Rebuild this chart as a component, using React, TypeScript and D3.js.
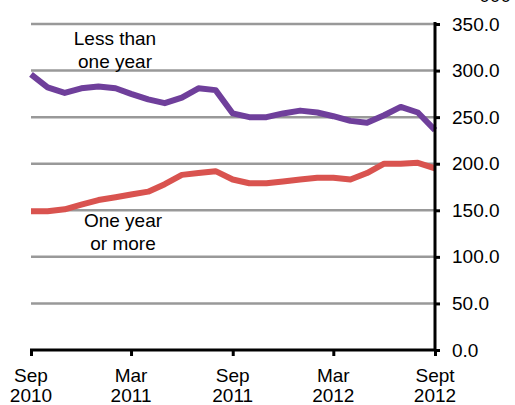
import React, { useEffect, useRef } from 'react';
import * as d3 from 'd3';

const startMonth = new Date(2010, 8, 1);
const lessThanOneYear = [296, 282, 276, 281, 283, 281, 275, 269, 265, 271, 281, 279, 254, 250, 250, 254, 257, 255, 251, 246, 244, 252, 261, 255, 236];
const oneYearOrMore = [149, 149, 151, 156, 161, 164, 167, 170, 178, 188, 190, 192, 183, 179, 179, 181, 183, 185, 185, 183, 190, 200, 200, 201, 195];
const xTickLabels = [['Sep', '2010'], ['Mar', '2011'], ['Sep', '2011'], ['Mar', '2012'], ['Sept', '2012']];
const yTicks = [0, 50, 100, 150, 200, 250, 300, 350];

const FONT = 'Liberation Sans, Arial, sans-serif';

const App: React.FC = () => {
  const ref = useRef<SVGSVGElement | null>(null);

  useEffect(() => {
    if (!ref.current) return;
    const svg = d3.select(ref.current);
    svg.selectAll('*').remove();

    const left = 31, right = 435, top = 24, bottom = 350;
    const months = lessThanOneYear.map((_, i) => d3.timeMonth.offset(startMonth, i));

    const x = d3.scaleTime()
      .domain([months[0], months[months.length - 1]])
      .range([left, right]);
    const y = d3.scaleLinear().domain([0, 350]).range([bottom, top]);

    // gridlines
    svg.append('g')
      .selectAll('line')
      .data(yTicks.filter(d => d > 0))
      .join('line')
      .attr('x1', left)
      .attr('x2', right)
      .attr('y1', d => y(d))
      .attr('y2', d => y(d))
      .attr('stroke', '#999')
      .attr('stroke-width', 2.5);

    const line = d3.line<number>()
      .x((_, i) => x(months[i]))
      .y(d => y(d));

    svg.append('path')
      .datum(oneYearOrMore)
      .attr('fill', 'none')
      .attr('stroke', '#D9534F')
      .attr('stroke-width', 6)
      .attr('stroke-linejoin', 'round')
      .attr('d', line);

    svg.append('path')
      .datum(lessThanOneYear)
      .attr('fill', 'none')
      .attr('stroke', '#6F3F9B')
      .attr('stroke-width', 6)
      .attr('stroke-linejoin', 'round')
      .attr('d', line);

    // right axis
    const yAxis = svg.append('g')
      .attr('transform', `translate(${right},0)`)
      .call(d3.axisRight(y).tickValues(yTicks).tickSize(5).tickPadding(12).tickFormat(d => (+d).toFixed(1)));
    yAxis.select('.domain').attr('stroke', '#000').attr('stroke-width', 3).attr('d', `M0,${top - 2}V${bottom + 1}`);
    yAxis.selectAll('.tick line').attr('stroke', '#000').attr('stroke-width', 3);
    yAxis.selectAll('.tick text')
      .attr('font-family', FONT)
      .attr('font-size', 19)
      .attr('fill', '#000');

    // bottom axis
    const xTicks = [0, 6, 12, 18, 24].map(i => months[i]);
    const xAxis = svg.append('g')
      .attr('transform', `translate(0,${bottom})`)
      .call(d3.axisBottom(x).tickValues(xTicks).tickSize(6).tickFormat(() => ''));
    xAxis.select('.domain').attr('stroke', '#000').attr('stroke-width', 3).attr('d', `M${left - 1},0H${right + 1}`);
    xAxis.selectAll('.tick line').attr('stroke', '#000').attr('stroke-width', 3);
    xAxis.selectAll('.tick text').remove();

    svg.append('g')
      .selectAll('text')
      .data(xTicks)
      .join('text')
      .attr('x', d => x(d))
      .attr('y', 382)
      .attr('text-anchor', 'middle')
      .attr('font-family', FONT)
      .attr('font-size', 19)
      .selectAll('tspan')
      .data((_, i) => xTickLabels[i])
      .join('tspan')
      .attr('x', function () { return (this.parentNode as SVGTextElement).getAttribute('x'); })
      .attr('dy', (_, j) => (j === 0 ? 0 : 20))
      .text(d => d);

    // series labels
    const labels = [
      { lines: ['Less than', 'one year'], x: 115, y: 45 },
      { lines: ['One year', 'or more'], x: 123, y: 227 },
    ];
    labels.forEach(l => {
      svg.append('text')
        .attr('text-anchor', 'middle')
        .attr('font-family', FONT)
        .attr('font-size', 19)
        .selectAll('tspan')
        .data(l.lines)
        .join('tspan')
        .attr('x', l.x)
        .attr('y', (_, j) => l.y + j * 23)
        .text(d => d);
    });

    // clipped heading above the frame
    svg.append('text')
      .attr('x', 511)
      .attr('y', 2)
      .attr('text-anchor', 'end')
      .attr('font-family', FONT)
      .attr('font-size', 19)
      .text("'000");
  }, []);

  return (
    <svg
      ref={ref}
      width={515}
      height={405}
      style={{ position: 'absolute', left: 0, top: 0, background: '#fff' }}
    />
  );
};

export default App;
